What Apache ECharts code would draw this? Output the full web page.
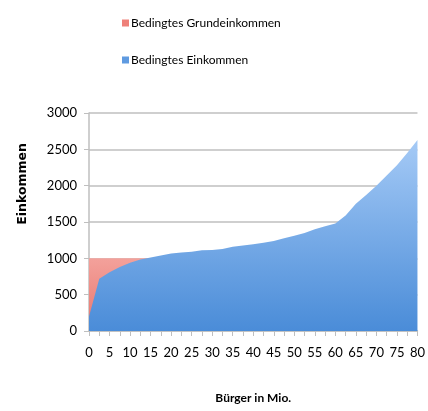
<!DOCTYPE html>
<html>
<head>
<meta charset="utf-8">
<script src="https://cdn.jsdelivr.net/npm/echarts@6/dist/echarts.min.js"></script>
<style>
html,body{margin:0;padding:0;background:#fff;}
#chart{width:428px;height:411px;}
</style>
</head>
<body>
<div id="chart"></div>
<script>
// Citizens (millions) on the x axis, income on the y axis
const seriesNames = ['Bedingtes Grundeinkommen', 'Bedingtes Einkommen'];
const xTicks = [0, 5, 10, 15, 20, 25, 30, 35, 40, 45, 50, 55, 60, 65, 70, 75, 80];
const yTicks = [0, 500, 1000, 1500, 2000, 2500, 3000];

// Conditional basic income: flat guarantee level
const grundX = [0, 15];
const grundY = [1000, 1000];

// Conditional income by citizens sorted by income
const einkX = [0, 2.5, 5, 7.5, 10, 12.5, 15, 17.5, 20, 22.5, 25, 27.5, 30, 32.5, 35, 37.5, 40,
  42.5, 45, 47.5, 50, 52.5, 55, 57.5, 60, 62.5, 65, 67.5, 70, 72.5, 75, 77.5, 80];
const einkY = [200, 720, 810, 880, 940, 985, 1010, 1040, 1065, 1080, 1090, 1110, 1115, 1130, 1160, 1175, 1195,
  1215, 1240, 1275, 1310, 1350, 1400, 1440, 1480, 1590, 1750, 1870, 2000, 2140, 2280, 2450, 2630];

const pair = (xs, ys) => xs.map((x, i) => [x, ys[i]]);
const font = 'Lato, "Liberation Sans", sans-serif';
const grey = '#bfbfbf';

const chart = echarts.init(document.getElementById('chart'));
chart.setOption({
  animation: false,
  backgroundColor: '#fff',
  grid: { left: 89, right: 9, top: 113, bottom: 80 },
  legend: {
    orient: 'vertical',
    left: 117,
    top: 12,
    itemGap: 25,
    itemWidth: 7,
    itemHeight: 7,
    icon: 'rect',
    textStyle: { fontFamily: font, fontSize: 12, color: '#000', padding: [0, 0, 0, -3] },
    data: seriesNames
  },
  // y-axis title sits above the axis middle
  graphic: [{
    type: 'text',
    left: 16,
    top: 143,
    rotation: Math.PI / 2,
    style: {
      text: 'Einkommen',
      fill: '#000',
      font: 'bold 12.5px "DejaVu Sans", sans-serif'
    }
  }],
  xAxis: {
    type: 'value',
    min: 0, max: 80, interval: 5,
    name: 'Bürger in Mio.',
    nameLocation: 'middle',
    nameGap: 61,
    nameTextStyle: { fontFamily: font, fontSize: 12, fontWeight: 'bold', color: '#000' },
    axisLine: { show: true, lineStyle: { color: grey, width: 1.5 } },
    axisTick: { show: true, length: 5, lineStyle: { color: grey } },
    minorTick: { show: true, splitNumber: 2, length: 5, lineStyle: { color: grey } },
    splitLine: { show: false },
    axisLabel: { fontFamily: font, fontSize: 13, color: '#000', margin: 15, formatter: v => String(v) }
  },
  yAxis: {
    type: 'value',
    min: 0, max: 3000, interval: 500,
    axisLine: { show: true, lineStyle: { color: grey, width: 1.5 } },
    axisTick: { show: true, length: 5, lineStyle: { color: grey } },
    splitLine: { show: true, lineStyle: { color: grey, width: 1.5 } },
    axisLabel: { fontFamily: font, fontSize: 13, color: '#000', margin: 12, formatter: v => String(v) }
  },
  series: [
    {
      name: seriesNames[0],
      type: 'line',
      data: pair(grundX, grundY),
      symbol: 'none',
      lineStyle: { width: 0 },
      itemStyle: { color: '#ee8079' },
      areaStyle: {
        opacity: 1,
        color: new echarts.graphic.LinearGradient(0, 0, 0, 1, [
          { offset: 0, color: '#f3a19b' },
          { offset: 1, color: '#e8756d' }
        ])
      },
      z: 1
    },
    {
      name: seriesNames[1],
      type: 'line',
      data: pair(einkX, einkY),
      symbol: 'none',
      lineStyle: { width: 0 },
      itemStyle: { color: '#5f9ae0' },
      areaStyle: {
        opacity: 1,
        color: new echarts.graphic.LinearGradient(0, 0, 0, 1, [
          { offset: 0, color: '#a5caf6' },
          { offset: 1, color: '#4a8cd8' }
        ])
      },
      z: 2
    }
  ]
});
</script>
</body>
</html>
